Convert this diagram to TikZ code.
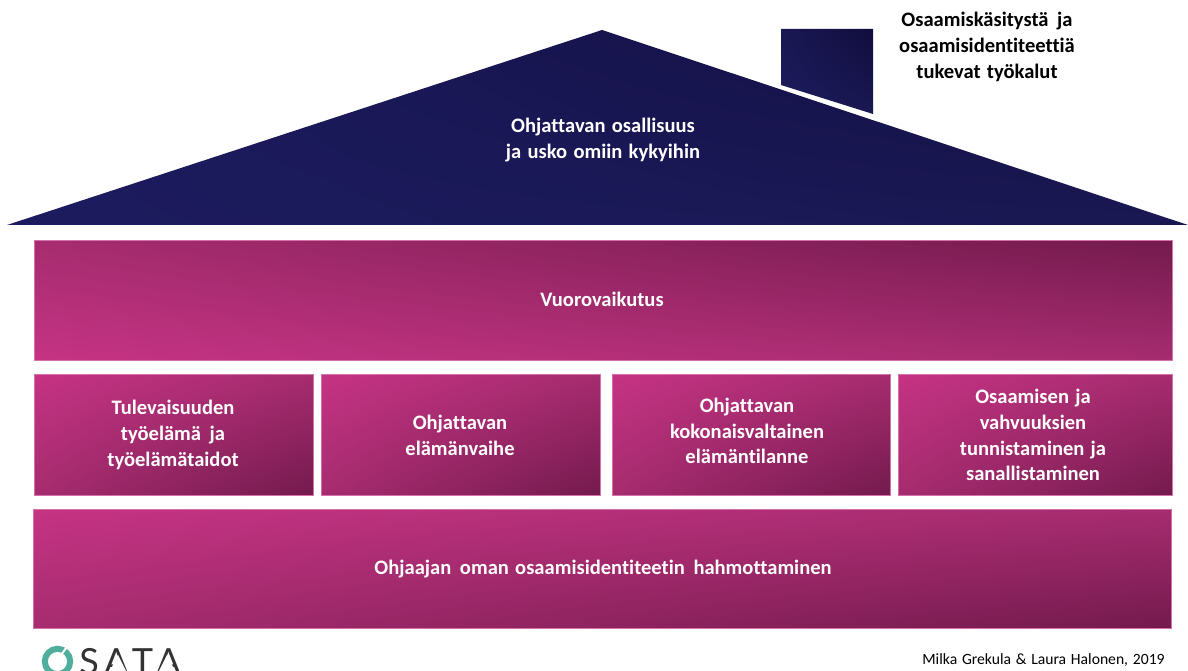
\documentclass[tikz,border=0pt]{standalone}
\usepackage{fontspec}
\setmainfont[Ligatures=CommonOff,WordSpace=1.35]{Carlito}
\newfontfamily\logofont[LetterSpace=16]{Lato}
\usetikzlibrary{shadings}
\definecolor{plumlight}{HTML}{C53383}
\definecolor{plummid}{HTML}{A62C6F}
\definecolor{plumdark}{HTML}{731A4E}
\definecolor{navylight}{HTML}{1C1B5E}
\definecolor{navymid}{HTML}{1A1852}
\definecolor{navydark}{HTML}{110D3E}
\definecolor{osatateal}{HTML}{4FAE9C}
\newcommand{\widegap}{\hspace{0.42em}}
\tikzset{
	x=0.02cm,y=-0.02cm,
	plumbox/.style={shading=bilinear interpolation,draw=plumlight!70!white,line width=0.2pt,
		anchor=north west,inner sep=0pt},
	wideup/.style={plumbox,lower left=plumlight,upper right=plumdark,upper left=plummid,lower right=plummid},
	widedown/.style={plumbox,upper left=plumlight,lower right=plumdark,upper right=plummid,lower left=plummid},
	plainlabel/.style={align=center,inner sep=0pt,font=\bfseries\fontsize{11.7}{14.7}\selectfont}
}
\begin{document}
\begin{tikzpicture}
	\useasboundingbox (0,0) rectangle (1188,671);
	\fill[white] (0,0) rectangle (1188,671);
	\shade[shading=bilinear interpolation,lower left=navylight,lower right=navymid,upper left=navylight,upper right=navydark]
		(7,225) -- (602,30) -- (1188,225) -- cycle;
	\shade[shading=bilinear interpolation,lower left=navylight,lower right=navymid,upper left=navymid,upper right=navydark]
		(781,29) -- (873,29) -- (873,114) -- (781,85) -- cycle;
	\node[plainlabel,text=white] (roofText) at (603,140) {Ohjattavan osallisuus\\ja usko omiin kykyihin};
	\node[plainlabel,text=black] (toolsText) at (987,47) {Osaamiskäsitystä\widegap ja\\osaamisidentiteettiä\\tukevat työkalut};
	\node[wideup,minimum width=1138*0.02cm,minimum height=120*0.02cm] (topBox) at (34,240) {};
	\node[plainlabel,text=white] (topText) at (602,299) {Vuorovaikutus};
	\foreach \x/\w/\tx/\ty/\nm/\txt in {
		34/279/173/435/boxA/{Tulevaisuuden\\työelämä\widegap ja\\työelämätaidot},
		321/279/460/435/boxB/{Ohjattavan\\elämänvaihe},
		612/278/747/431/boxC/{Ohjattavan\\kokonaisvaltainen\\elämäntilanne},
		898/274/1033/435/boxD/{Osaamisen ja\\vahvuuksien\\tunnistaminen ja\\sanallistaminen}} {
		\node[widedown,minimum width=\w*0.02cm,minimum height=121*0.02cm] (\nm) at (\x,374) {};
		\node[plainlabel,text=white] (\nm Text) at (\tx,\ty) {\txt};
	}
	\node[widedown,minimum width=1138*0.02cm,minimum height=119*0.02cm] (baseBox) at (33,509) {};
	\node[plainlabel,text=white] (baseText) at (603,569) {Ohjaajan\widegap oman osaamisidentiteetin\widegap hahmottaminen};
	\node[anchor=east,inner sep=0pt,font=\fontsize{8.9}{11}\selectfont] (creditText) at (1165,660) {Milka Grekula \& Laura Halonen, 2019};
	\begin{scope}
		\clip (0,630) rectangle (1188,671);
		\draw[osatateal,line width=6*0.02cm] (57.5,661.5) circle (12.7);
		\draw[white,line width=2*0.02cm] (61,655) -- (69,644);
		\node[anchor=base west,inner sep=0pt,text=black!80,font=\logofont\fontsize{20.5}{20.5}\selectfont] (logoText) at (79,675) {SATA};
		\foreach \c in {118,167} {
			\fill[white] (\c,655) -- (\c-8,671) -- (\c+8,671) -- cycle;
		}
	\end{scope}
\end{tikzpicture}
\end{document}
